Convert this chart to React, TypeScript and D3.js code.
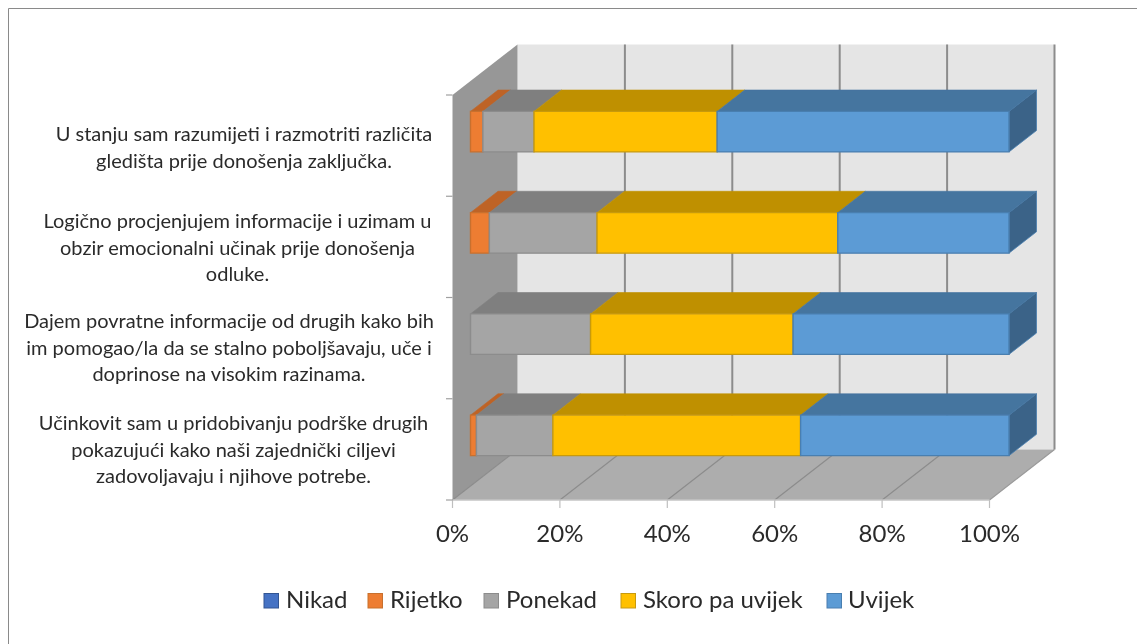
import React from "react";
import * as d3 from "d3";

const categories = [
  ["U stanju sam razumijeti i razmotriti različita", "gledišta prije donošenja zaključka."],
  ["Logično procjenjujem informacije i uzimam u", "obzir emocionalni učinak prije donošenja", "odluke."],
  ["Dajem povratne informacije od drugih kako bih", "im pomogao/la da se stalno poboljšavaju, uče i", "doprinose na visokim razinama."],
  ["Učinkovit sam u pridobivanju podrške drugih", "pokazujući kako naši zajednički ciljevi", "zadovoljavaju i njihove potrebe."],
];
const seriesNames = ["Nikad", "Rijetko", "Ponekad", "Skoro pa uvijek", "Uvijek"];
const nikad = [0, 0, 0, 0];
const rijetko = [2.3, 3.5, 0, 1.1];
const ponekad = [9.5, 20, 22.3, 14.2];
const skoroPaUvijek = [34, 44.7, 37.6, 46];
const uvijek = [54.2, 31.8, 40.1, 38.7];
const seriesValues = [nikad, rijetko, ponekad, skoroPaUvijek, uvijek];
const xTicks = [0, 20, 40, 60, 80, 100];

const front = ["#4472C4", "#ED7D31", "#A5A5A5", "#FFC000", "#5B9BD5"];
const topFace = ["#335593", "#BE6427", "#7F7F7F", "#BF9000", "#44749F"];
const stroke = ["#335593", "#C8702F", "#8C8C8C", "#C79A10", "#4A7FB0"];
const sideFace = "#3A6488";

const FONT = "Lato, 'Open Sans', sans-serif";
const x = d3.scaleLinear().domain([0, 100]).range([452.5, 989.5]);
const xBar = d3.scaleLinear().domain([0, 100]).range([452.5, 991]);
const y = d3.scaleBand<number>().domain([0, 1, 2, 3]).range([95, 500]).paddingInner(0.6).paddingOuter(0.3);
const DX = 65;
const DY = -50.5;
const P = (v: number, py: number, t: number): [number, number] => [x(v) + DX * t, py + DY * t];
const B = (v: number, py: number, t: number): [number, number] => [xBar(v) + DX * t, py + DY * t];
const poly = (pts: [number, number][]) => d3.line()(pts) + "Z";

const T0 = 0.277;
const T1 = 0.7;

const labelCentres = [244, 237.5, 229, 233.5];
const labelBaselines = [141, 228, 328, 430];
const legendSwatchX = [264, 368, 484, 621, 827];
const legendTextX = [286, 390, 506, 643, 848];

export default function App() {
  const yTop = 95, yBot = 500;
  return (
    <svg width={1137} height={644} style={{ position: "absolute", left: 0, top: 0, display: "block", background: "#fff" }}>
      <defs>
        <filter id="soft" x="0" y="0" width="100%" height="100%" filterUnits="userSpaceOnUse">
          <feGaussianBlur stdDeviation="0.4" />
        </filter>
      </defs>
      <g filter="url(#soft)">
      <path d="M8.5,644V8.5H1137" fill="none" stroke="#8a8a8a" strokeWidth={1} />
      {/* walls */}
      <path d={poly([P(0, yTop, 1), P(100, yTop, 1), P(100, yBot, 1), P(0, yBot, 1)])} fill="#E5E5E5" />
      <path d={poly([P(0, yTop, 0), P(0, yTop, 1), P(0, yBot, 1), P(0, yBot, 0)])} fill="#979797" />
      <path d={poly([P(0, yBot, 0), P(0, yBot, 1), P(100, yBot, 1), P(100, yBot, 0)])} fill="#ADADAD" />
      {xTicks.map((t) => (
        <g key={t}>
          <path d={d3.line()([P(t, yTop, 1), P(t, yBot, 1)])!} stroke="#8C8C8C" strokeWidth={t === 0 ? 0 : 2} fill="none" />
          <path d={d3.line()([P(t, yBot, 1), P(t, yBot, 0)])!} stroke={t === 100 ? "#9a9a9a" : "#8C8C8C"} strokeWidth={1.2} fill="none" />
          <path d={d3.line()([[x(t), yBot], [x(t), yBot + 8]])!} stroke="#BFBFBF" strokeWidth={1.2} fill="none" />
          <text x={x(t)} y={542} textAnchor="middle" fontFamily={FONT} fontSize={24} fill="#2b2b2b">{t}%</text>
        </g>
      ))}
      <path d={d3.line()([P(0, yBot, 0), P(100, yBot, 0)])!} stroke="#C4C4C4" strokeWidth={1.5} fill="none" />
      {[0, 1, 2, 3, 4].map((i) => {
        const py = yTop + (i * (yBot - yTop)) / 4;
        return <path key={i} d={d3.line()([[446, py], [452.5, py]])!} stroke="#A0A0A0" strokeWidth={1.2} fill="none" />;
      })}
      {/* bars */}
      {categories.map((_, c) => {
        const by0 = y(c)!;
        const by1 = by0 + y.bandwidth();
        let acc = 0;
        const segs = seriesValues.map((vals, s) => {
          const a = acc;
          acc += vals[c];
          return { s, a, b: acc };
        }).filter((d) => d.b > d.a);
        const last = segs[segs.length - 1];
        return (
          <g key={c}>
            <path d={poly([B(last.b, by1, T0), B(last.b, by1, T1), B(last.b, by0, T1), B(last.b, by0, T0)])} fill={sideFace} stroke={stroke[last.s]} strokeWidth={0.8} />
            {segs.map(({ s, a, b }) => (
              <g key={s}>
                <path d={poly([B(a, by0, T0), B(a, by0, T1), B(b, by0, T1), B(b, by0, T0)])} fill={topFace[s]} stroke={topFace[s]} strokeWidth={0.6} />
                <path d={poly([B(a, by0, T0), B(b, by0, T0), B(b, by1, T0), B(a, by1, T0)])} fill={front[s]} stroke={stroke[s]} strokeWidth={1.4} />
              </g>
            ))}
          </g>
        );
      })}
      {/* category labels */}
      {categories.map((lines, c) => (
        <text key={c} textAnchor="middle" fontFamily={FONT} fontSize={20} fill="#2b2b2b">
          {lines.map((l, i) => (
            <tspan key={i} x={labelCentres[c]} y={labelBaselines[c] + i * 26.7}>{l}</tspan>
          ))}
        </text>
      ))}
      {/* legend */}
      {seriesNames.map((n, i) => (
        <g key={n}>
          <rect x={legendSwatchX[i]} y={593.5} width={14.5} height={14.5} fill={front[i]} stroke={stroke[i]} strokeWidth={1} />
          <text x={legendTextX[i]} y={608} fontFamily={FONT} fontSize={24} fill="#2b2b2b">{n}</text>
        </g>
      ))}
      </g>
    </svg>
  );
}
